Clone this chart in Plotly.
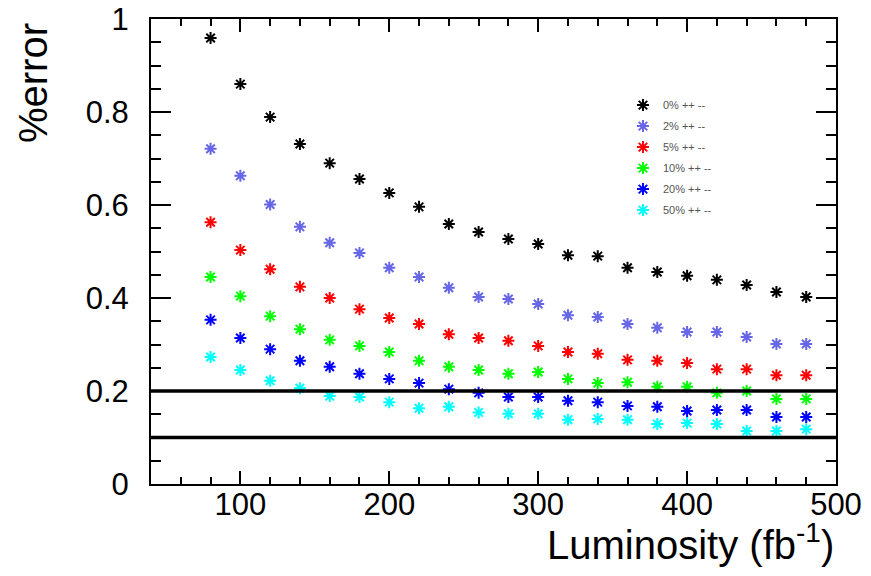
import plotly.graph_objects as go

luminosity = [80, 100, 120, 140, 160, 180, 200, 220, 240, 260, 280, 300,
              320, 340, 360, 380, 400, 420, 440, 460, 480]

err_0 = [0.959, 0.860, 0.789, 0.731, 0.690, 0.656, 0.626, 0.596, 0.559, 0.542, 0.527,
         0.516, 0.492, 0.490, 0.465, 0.456, 0.448, 0.439, 0.428, 0.413, 0.402]
err_2 = [0.721, 0.663, 0.601, 0.553, 0.519, 0.497, 0.465, 0.445, 0.422, 0.402, 0.398,
         0.387, 0.363, 0.359, 0.344, 0.336, 0.327, 0.327, 0.316, 0.301, 0.301]
err_5 = [0.563, 0.503, 0.462, 0.424, 0.400, 0.376, 0.357, 0.344, 0.322, 0.314, 0.308,
         0.297, 0.284, 0.280, 0.267, 0.265, 0.260, 0.247, 0.247, 0.234, 0.234]
err_10 = [0.445, 0.404, 0.361, 0.333, 0.310, 0.297, 0.284, 0.265, 0.252, 0.245, 0.237,
          0.241, 0.226, 0.217, 0.219, 0.209, 0.209, 0.196, 0.200, 0.183, 0.183]
err_20 = [0.353, 0.314, 0.290, 0.265, 0.252, 0.237, 0.226, 0.217, 0.204, 0.196, 0.187,
          0.187, 0.179, 0.176, 0.168, 0.166, 0.157, 0.159, 0.159, 0.144, 0.144]
err_50 = [0.273, 0.245, 0.222, 0.206, 0.189, 0.187, 0.176, 0.163, 0.166, 0.154, 0.151,
          0.151, 0.138, 0.140, 0.138, 0.129, 0.131, 0.129, 0.114, 0.114, 0.118]

series_names = ["0% ++ --", "2% ++ --", "5% ++ --", "10% ++ --", "20% ++ --", "50% ++ --"]
series_values = [err_0, err_2, err_5, err_10, err_20, err_50]
series_colors = ["#000000", "#6666e6", "#ff0000", "#00ff00", "#0000ff", "#00ffff"]

reference_levels = [0.2, 0.1]

x_range = [40, 500]
y_range = [0, 1]

fig = go.Figure()

for name, vals, col in zip(series_names, series_values, series_colors):
    fig.add_trace(go.Scatter(
        x=luminosity, y=vals, mode="markers", name=name, legendgroup=name,
        marker=dict(symbol="asterisk-open", size=10, color=col,
                    line=dict(color=col, width=2)),
    ))

for lvl in reference_levels:
    fig.add_shape(type="line", xref="paper", yref="y", x0=0, x1=1, y0=lvl, y1=lvl,
                  line=dict(color="black", width=3.5))

font_family = "Liberation Sans, Arial, sans-serif"

fig.update_layout(
    width=871, height=576,
    margin=dict(l=151, r=35, t=19, b=92, autoexpand=False),
    paper_bgcolor="white", plot_bgcolor="white",
    font=dict(family=font_family, color="black"),
    showlegend=True,
    legend=dict(x=0.689, y=0.846, xanchor="left", yanchor="top",
                bgcolor="rgba(0,0,0,0)", font=dict(size=11, color="#555555"),
                itemwidth=30, tracegroupgap=2),
    xaxis=dict(range=x_range, tickvals=[100, 200, 300, 400, 500],
               ticks="inside", ticklen=13, tickwidth=2, tickcolor="black",
               minor=dict(dtick=20, tick0=0, ticks="inside", ticklen=7,
                          tickwidth=2, tickcolor="black"),
               showline=True, linecolor="black", linewidth=2, mirror="ticks",
               showgrid=False, zeroline=False, automargin=False,
               ticklabeloverflow="allow",
               tickfont=dict(size=31, family=font_family), ticklabelstandoff=-8),
    yaxis=dict(range=y_range, tickvals=[0, 0.2, 0.4, 0.6, 0.8, 1],
               ticktext=["0", "0.2", "0.4", "0.6", "0.8", "1"],
               ticks="inside", ticklen=20, tickwidth=2, tickcolor="black",
               minor=dict(dtick=0.05, tick0=0, ticks="inside", ticklen=10,
                          tickwidth=2, tickcolor="black"),
               showline=True, linecolor="black", linewidth=2, mirror="ticks",
               showgrid=False, zeroline=False, automargin=False,
               ticklabeloverflow="allow",
               tickfont=dict(size=31, family=font_family), ticklabelstandoff=14),
    annotations=[
        dict(text="Luminosity (fb<sup>-1</sup>)", xref="paper", yref="paper",
             x=1.0, y=-0.067, xanchor="right", yanchor="top", showarrow=False,
             font=dict(size=40, family=font_family)),
        dict(text="%error", xref="paper", yref="paper", x=-0.172, y=0.996,
             xanchor="center", yanchor="top", textangle=-90, showarrow=False,
             font=dict(size=40, family=font_family)),
    ],
)

fig.write_html("out.html")
